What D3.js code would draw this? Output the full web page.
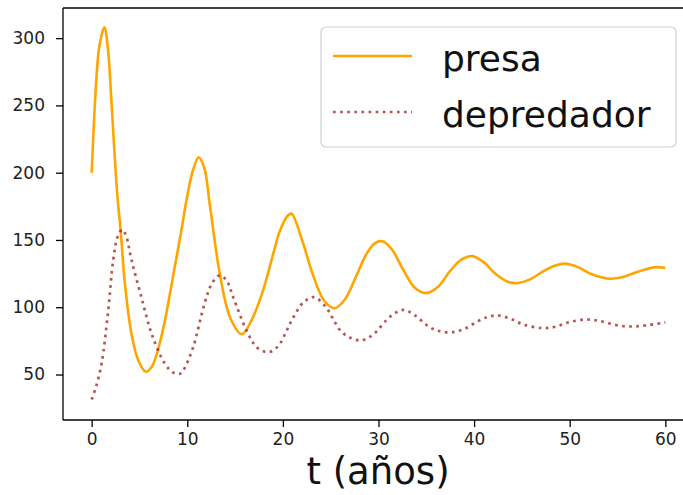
<!DOCTYPE html>
<html>
<head>
    <meta charset="utf-8">
    <script src="https://cdn.jsdelivr.net/npm/d3@7"></script>
    <style>
    body { margin: 0; background: #fff; }
    svg { display: block; }
    svg text { font-family: "DejaVu Sans", sans-serif; }
    </style>
</head>
<body>
    <script>
    // time points (years), one set per series
    var tPresa = [0, 0.45, 0.8, 1.33, 1.7, 2.05, 2.4, 2.7, 3.05, 3.47, 4.17, 4.9, 5.67, 6.3, 6.8, 7.6, 8.36, 9.4, 9.93, 10.6,
        11.2, 11.8, 12.36, 13.4, 14.5, 15.7, 16.7, 17.9, 19.0, 19.7, 20.5, 20.9, 22.0, 23.2, 24.3, 25.4, 26.5, 27.6, 28.7, 29.6,
        30.4, 31.4, 32.5, 33.8, 35.0, 36.2, 37.5, 38.7, 39.8, 41.0, 42.3, 43.5, 44.6, 45.8, 47.3, 48.5, 49.5, 50.8, 52.3, 54.2,
        55.6, 57.2, 59.0, 60];
    var presa = [200, 265, 294, 308, 292, 255, 213, 182, 155, 118, 80, 60, 52, 56, 65, 88, 117, 158, 180, 202,
        211.5, 203, 176, 125, 92, 80, 90, 112, 140, 157, 168, 169.5, 150, 123, 105, 99.3, 106, 122, 139, 147.5,
        149, 143, 129, 114.5, 110.5, 115, 127, 135.5, 138, 133.5, 124.5, 119, 118, 120.5, 127, 131, 132.4, 130, 124.5, 121.2,
        122.5, 126.5, 129.8, 129.1];

    var tDepredador = [0, 0.5, 1.03, 1.73, 2.25, 2.7, 3.2, 3.6, 4.17, 5.2, 6.27, 7.66, 8.5, 9.2, 9.57, 10.6, 11.8, 12.6, 13.4, 14.1,
        14.8, 16.2, 17.3, 18.5, 19.5, 20.4, 21.1, 22.2, 23.3, 24.5, 25.2, 26.0, 27.0, 28.2, 29.5, 30.8, 31.8, 32.7, 33.8, 35.4,
        36.5, 37.7, 39.0, 40.5, 41.5, 42.5, 43.8, 45.2, 47.2, 48.5, 50.0, 51.8, 53.3, 55.0, 56.6, 58.0, 60];
    var depredador = [31.4, 42, 58, 97.6, 135, 152, 157.7, 153, 135, 107.5, 80.3, 58, 51.5, 50.5, 53, 70, 102.6, 118, 123.7, 120,
        107.5, 82.7, 70, 66.6, 71, 82.7, 92.6, 104, 107.5, 100, 92, 82.7, 77.5, 75.3, 80, 90.2, 96, 98, 94, 85,
        82, 81.5, 84, 90, 93, 93.9, 91.5, 87, 84.5, 85.5, 89, 90.9, 89.5, 86.5, 85.7, 86.5, 88.7];

    var xTicks = [0, 10, 20, 30, 40, 50, 60];
    var yTicks = [50, 100, 150, 200, 250, 300];
    var labels = ["presa", "depredador"];

    var width = 683, height = 495;
    // plot area (right spine falls outside the picture)
    var plotLeft = 63, plotTop = 8, plotBottom = 420, plotRight = 694;

    var svg = d3.select('body').append('svg')
        .attr('width', width)
        .attr('height', height);

    var x = d3.scaleLinear().domain([-3, 63]).range([plotLeft, plotRight]);
    var y = d3.scaleLinear().domain([16.2, 322.4]).range([plotBottom, plotTop]);

    // the two curves
    var line = d3.line()
        .x(function(d) { return x(d[0]); })
        .y(function(d) { return y(d[1]); })
        .curve(d3.curveCatmullRom.alpha(0.5));

    var plot = svg.append('g');

    plot.append('path')
        .datum(d3.zip(tPresa, presa))
        .attr('d', line)
        .attr('fill', 'none')
        .attr('stroke', '#ffa500')
        .attr('stroke-width', 2.6)
        .attr('stroke-linejoin', 'round');

    plot.append('path')
        .datum(d3.zip(tDepredador, depredador))
        .attr('d', line)
        .attr('fill', 'none')
        .attr('stroke', '#a52a2a')
        .attr('stroke-opacity', 0.8)
        .attr('stroke-width', 2.7)
        .attr('stroke-dasharray', '2.7,4.4');

    // spines
    svg.append('line').attr('x1', plotLeft).attr('x2', plotLeft).attr('y1', plotTop).attr('y2', plotBottom)
        .attr('stroke', '#000').attr('stroke-width', 1.3);
    svg.append('line').attr('x1', plotLeft).attr('x2', plotRight).attr('y1', plotTop).attr('y2', plotTop)
        .attr('stroke', '#000').attr('stroke-width', 1.3);
    svg.append('line').attr('x1', plotLeft).attr('x2', plotRight).attr('y1', plotBottom).attr('y2', plotBottom)
        .attr('stroke', '#000').attr('stroke-width', 1.3);

    // axes
    var xAxis = svg.append('g')
        .attr('transform', 'translate(0,' + plotBottom + ')')
        .call(d3.axisBottom(x).tickValues(xTicks).tickSize(7).tickPadding(6));
    var yAxis = svg.append('g')
        .attr('transform', 'translate(' + plotLeft + ',0)')
        .call(d3.axisLeft(y).tickValues(yTicks).tickSize(7).tickPadding(11));
    [xAxis, yAxis].forEach(function(a) {
        a.attr('font-family', null).attr('font-size', null);
        a.select('.domain').remove();
        a.selectAll('.tick line').attr('stroke', '#000').attr('stroke-width', 1.3);
        a.selectAll('.tick text')
            .style('font-family', '"DejaVu Sans", sans-serif')
            .style('font-size', '17px')
            .attr('fill', '#222');
    });

    svg.append('text')
        .attr('x', 378)
        .attr('y', 484)
        .attr('text-anchor', 'middle')
        .attr('font-size', 37)
        .attr('fill', '#111')
        .text('t (años)');

    // legend
    var legend = svg.append('g');
    legend.append('rect')
        .attr('x', 321).attr('y', 27).attr('width', 355).attr('height', 120)
        .attr('rx', 5)
        .attr('fill', '#fff').attr('fill-opacity', 0.8)
        .attr('stroke', '#d0d0d0').attr('stroke-width', 1.2);

    var items = legend.selectAll('g.item')
        .data(labels)
        .enter().append('g')
        .attr('class', 'item')
        .attr('transform', function(d, i) { return 'translate(0,' + (56 + i * 56) + ')'; });

    items.append('line')
        .attr('x1', 333).attr('x2', 412).attr('y1', 0).attr('y2', 0)
        .attr('stroke', function(d, i) { return i === 0 ? '#ffa500' : '#a52a2a'; })
        .attr('stroke-opacity', function(d, i) { return i === 0 ? 1 : 0.8; })
        .attr('stroke-width', function(d, i) { return i === 0 ? 2.6 : 2.7; })
        .attr('stroke-dasharray', function(d, i) { return i === 0 ? null : '2.7,4.4'; });

    items.append('text')
        .attr('x', 442)
        .attr('y', 15)
        .attr('font-size', 36)
        .attr('fill', '#111')
        .text(function(d) { return d; });
    </script>
</body>
</html>
